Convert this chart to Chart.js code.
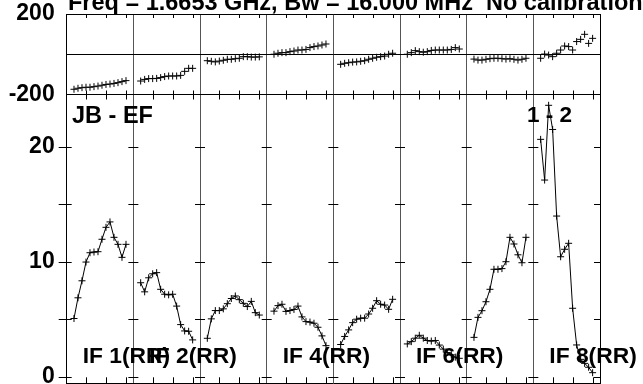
<!DOCTYPE html>
<html>
<head>
<meta charset="utf-8">
<script src="https://cdn.jsdelivr.net/npm/chart.js@4.4.0/dist/chart.umd.min.js"></script>
<style>
  html, body { margin: 0; padding: 0; background: #fff; }
  #wrap { width: 643px; height: 384px; }
</style>
</head>
<body>
<div id="wrap"><canvas id="possm" width="643" height="384"></canvas></div>
<script>
// channels plotted in every IF (2..15 of 16)
const channels = [2, 3, 4, 5, 6, 7, 8, 9, 10, 11, 12, 13, 14, 15];
const chanTicks = [5, 10, 15];

// amplitude per IF (Jy)
const amp1 = [5.06, 6.86, 8.34, 9.97, 10.78, 10.84, 10.87, 11.95, 12.99, 13.46, 12.12, 11.51, 10.38, 11.51];
const amp2 = [8.17, 7.38, 8.6, 8.95, 9.05, 7.6, 7.17, 7.12, 7.17, 6.14, 4.53, 3.98, 3.95, 3.2];
const amp3 = [3.34, 5.03, 5.75, 5.75, 5.9, 6.35, 6.8, 7.02, 6.7, 6.38, 6.1, 6.55, 5.57, 5.36];
const amp4 = [5.7, 6.18, 6.3, 5.68, 5.75, 5.85, 6.14, 5.2, 4.79, 4.75, 4.65, 4.3, 3.55, 2.7];
const amp5 = [2.8, 3.5, 4.07, 4.7, 5.0, 5.09, 5.09, 5.45, 5.95, 6.61, 6.3, 6.23, 5.86, 6.73];
const amp6 = [2.85, 3.05, 3.35, 3.6, 3.35, 3.15, 3.1, 3.15, 2.75, 2.4, 2.1, 1.9, 1.7, 1.6];
const amp7 = [3.42, 5.16, 5.74, 6.52, 7.6, 9.34, 9.34, 9.4, 10.0, 12.12, 11.54, 10.6, 9.91, 12.12];
const amp8 = [20.64, 17.1, 23.6, 21.5, 13.97, 10.43, 11.08, 11.6, 5.95, 2.76, 1.51, 1.16, 0.82, 0.35];

// phase per IF (degrees)
const phase1 = [-174, -169, -166, -164, -164, -161, -158, -154, -150, -148, -145, -141, -136, -131];
const phase2 = [-133, -125, -121, -121, -120, -116, -111, -108, -108, -108, -105, -85, -70, -70];
const phase3 = [-32, -35, -38, -34, -30, -25, -25, -22, -20, -12, -12, -14, -14, -13];
const phase4 = [0, 5, 8, 8, 13, 16, 21, 21, 24, 33, 38, 41, 46, 51];
const phase5 = [-50, -45, -42, -39, -38, -35, -32, -25, -20, -15, -12, -9, 0, 5];
const phase6 = [0, 8, 18, 13, 10, 13, 19, 21, 21, 21, 21, 24, 33, 26];
const phase7 = [-24, -29, -29, -25, -22, -20, -20, -22, -24, -22, -25, -29, -25, -20];
const phase8 = [-20, 1, -4, -12, 5, 21, 41, 38, 21, 63, 74, 99, 54, 79];

const ampTicks = [0, 5, 10, 15, 20];
const ampLabels = [0, 10, 20];
const phaseTicks = [-200, 0, 200];
const phaseLabels = [-200, 200];

const ifLabels = ['IF 1(RR)', 'IF 2(RR)', '', 'IF 4(RR)', '', 'IF 6(RR)', '', 'IF 8(RR)'];
const titleText = 'Freq = 1.6653 GHz, Bw = 16.000 MHz  No calibration';
const baselineText = 'JB - EF';
const stokesText = '1 - 2';

const amps = [amp1, amp2, amp3, amp4, amp5, amp6, amp7, amp8];
const phases = [phase1, phase2, phase3, phase4, phase5, phase6, phase7, phase8];
const IF_COUNT = amps.length;

// each IF panel is one x unit wide
const CH0 = 0.175, CHW = 16.67;
function chanX(k, c) { return k + (c - CH0) / CHW; }

const FONT = '"Liberation Sans", Arial, sans-serif';

const datasets = [];
amps.forEach((a, k) => {
    datasets.push({
        data: a.map((v, i) => ({ x: chanX(k, channels[i]), y: v })),
        yAxisID: 'y',
        showLine: true,
        borderColor: '#000',
        borderWidth: 1,
        pointStyle: 'cross',
        pointRadius: 3.5,
        pointBorderColor: '#000',
        pointBorderWidth: 1
    });
});
phases.forEach((p, k) => {
    datasets.push({
        data: p.map((v, i) => ({ x: chanX(k, channels[i]), y: v })),
        yAxisID: 'yPhase',
        showLine: false,
        pointStyle: 'cross',
        pointRadius: 3.5,
        pointBorderColor: '#000',
        pointBorderWidth: 1
    });
});

// no label overflow padding, the frame sits where the layout says
function noPad(s) {
    s.paddingTop = 0;
    s.paddingBottom = 0;
    s.paddingLeft = 0;
    s.paddingRight = 0;
}

//ticks on every panel edge + text
const panelTicks = {
    id: 'panelTicks',
    afterDatasetsDraw(chart) {
        const { ctx, chartArea: a, scales } = chart;
        const x = scales.x, y = scales.y;
        ctx.save();
        ctx.strokeStyle = '#000';
        ctx.lineWidth = 1;
        ctx.beginPath();
        for (let k = 0; k <= IF_COUNT; k++) {
            const px = x.getPixelForValue(k);
            const lo = k === 0 ? 8 : (k === IF_COUNT ? 6 : 5);
            const hi = k === IF_COUNT ? 0 : 5;
            ampTicks.forEach(v => {
                const py = Math.round(y.getPixelForValue(v)) + 0.5;
                ctx.moveTo(px - lo, py);
                ctx.lineTo(px + hi, py);
            });
        }
        for (let k = 0; k < IF_COUNT; k++) {
            chanTicks.forEach(c => {
                const px = Math.round(x.getPixelForValue(chanX(k, c))) + 0.5;
                ctx.moveTo(px, a.top);
                ctx.lineTo(px, a.top + 4);
                ctx.moveTo(px, y.top - 4);
                ctx.lineTo(px, y.top + 5);
                ctx.moveTo(px, a.bottom - 6);
                ctx.lineTo(px, a.bottom);
            });
        }
        ctx.stroke();
        ctx.restore();
    },
    afterDraw(chart) {
        const { ctx, scales } = chart;
        const x = scales.x;
        ctx.save();
        ctx.fillStyle = '#000';
        ctx.textBaseline = 'alphabetic';
        ctx.textAlign = 'left';
        ctx.font = 'bold 23.5px ' + FONT;
        ctx.fillText(titleText, 68, 10);
        ctx.fillText(baselineText, 72, 122.5);
        ctx.font = 'bold 22.5px ' + FONT;
        ctx.textAlign = 'right';
        ctx.fillText(stokesText, 572, 121.5);
        ctx.textAlign = 'left';
        ctx.font = 'bold 22.8px ' + FONT;
        ifLabels.forEach((t, k) => {
            if (t) ctx.fillText(t, x.getPixelForValue(k) + 16, 363);
        });
        ctx.restore();
    }
};

const ctx = document.getElementById('possm');
const chart = new Chart(ctx, {
    type: 'scatter',
    data: { datasets: datasets },
    options: {
        responsive: false,
        animation: false,
        devicePixelRatio: 1,
        layout: { autoPadding: false, padding: { left: 0, right: 43, top: 14, bottom: 0.7 } },
        plugins: {
            legend: { display: false },
            tooltip: { enabled: false },
            title: { display: false }
        },
        scales: {
            x: {
                type: 'linear',
                min: 0,
                max: IF_COUNT,
                afterBuildTicks: s => { s.ticks = Array.from({ length: IF_COUNT + 1 }, (_, k) => ({ value: k })); },
                afterFit: s => { s.height = 0; noPad(s); },
                ticks: { display: false },
                grid: {
                    drawTicks: false,
                    color: c => (c.tick && (c.tick.value === 0 || c.tick.value === IF_COUNT)) ? '#000' : '#555',
                    lineWidth: 1
                },
                border: { display: true, color: '#000', width: 1 }
            },
            y: {
                type: 'linear',
                position: 'left',
                stack: 'possm',
                stackWeight: 288.8,
                min: -0.574,
                max: 24.54,
                afterBuildTicks: s => { s.ticks = ampTicks.map(v => ({ value: v })); },
                afterFit: s => { s.width = 66.7; noPad(s); },
                ticks: {
                    autoSkip: false,
                    padding: 12,
                    color: '#000',
                    font: { family: FONT, size: 23, weight: 'bold' },
                    callback: v => ampLabels.includes(v) ? String(v) : ''
                },
                grid: { drawOnChartArea: false, drawTicks: false },
                border: { display: true, color: '#000', width: 1 }
            },
            yPhase: {
                type: 'linear',
                position: 'left',
                stack: 'possm',
                stackWeight: 80.5,
                min: -200,
                max: 200,
                afterBuildTicks: s => { s.ticks = phaseTicks.map(v => ({ value: v })); },
                afterFit: s => { s.width = 66.7; noPad(s); },
                ticks: {
                    autoSkip: false,
                    padding: 12,
                    color: '#000',
                    font: { family: FONT, size: 23, weight: 'bold' },
                    callback: v => phaseLabels.includes(v) ? String(v) : ''
                },
                grid: { drawOnChartArea: true, drawTicks: false, color: '#000', lineWidth: 1 },
                border: { display: true, color: '#000', width: 1 }
            }
        }
    },
    plugins: [panelTicks]
});
</script>
</body>
</html>
